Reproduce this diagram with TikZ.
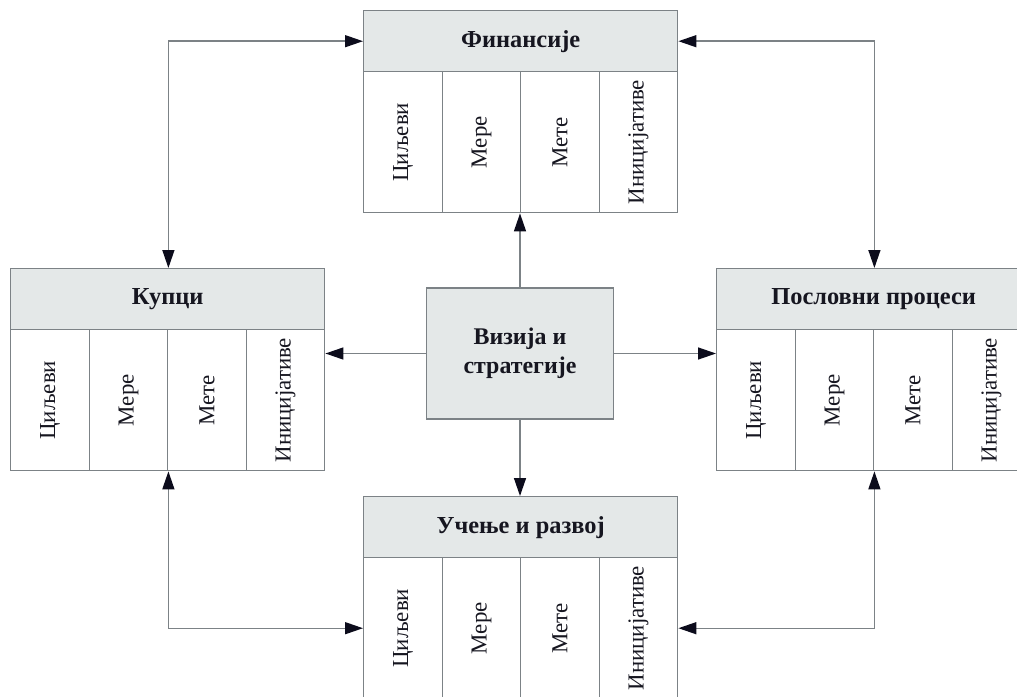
\documentclass[tikz,border=0pt]{standalone}
\usepackage{fontspec}
\setmainfont{Liberation Serif}
\usetikzlibrary{arrows.meta}

\definecolor{linec}{RGB}{124,130,134}
\definecolor{headc}{RGB}{228,232,232}
\definecolor{tipc}{RGB}{12,12,28}
\definecolor{textc}{RGB}{22,22,32}

\tikzset{
  boxline/.style={draw=linec, line width=1.4bp},
  panelhead/.style={boxline, fill=headc, minimum width=314bp, minimum height=61bp,
    inner sep=0pt, anchor=north west, text=textc,
    font=\bfseries\fontsize{24.5}{28}\selectfont},
  panelcell/.style={boxline, fill=white, minimum width=78.5bp, minimum height=141bp,
    inner sep=0pt, anchor=north west, text=textc,
    font=\fontsize{23}{26}\selectfont},
  visionbox/.style={boxline, fill=headc, minimum width=187bp, minimum height=131bp,
    inner sep=0pt, align=center, text=textc,
    font=\bfseries\fontsize{24}{29}\selectfont},
  tiphead/.tip={Triangle[length=18bp,width=12bp,color=tipc]},
  link/.style={draw=linec, line width=1.4bp, -tiphead},
  duplex/.style={draw=linec, line width=1.4bp, tiphead-tiphead},
}

% one perspective: title bar with four rotated columns below it
\newcommand\makepanel[4]{%
  \node[panelhead] (#1-h) at (#2,#3) {#4};
  \node[panelcell] (#1-c1) at (#2,{#3+61}) {\rotatebox{90}{Циљеви}};
  \node[panelcell] (#1-c2) at ({#2+78.5},{#3+61}) {\rotatebox{90}{Мере}};
  \node[panelcell] (#1-c3) at ({#2+157},{#3+61}) {\rotatebox{90}{Мете}};
  \node[panelcell] (#1-c4) at ({#2+235.5},{#3+61}) {\rotatebox{90}{Иницијативе}};
}

\begin{document}
\begin{tikzpicture}[x=1bp, y=-1bp]
  \useasboundingbox (0,0) rectangle (1017,697);
  \fill[white] (0,0) rectangle (1017,697);
  \clip (0,0) rectangle (1017,697);

  \makepanel{fin}{363}{10}{Финансије}
  \makepanel{kup}{10}{268}{Купци}
  \makepanel{pos}{716}{268}{Пословни процеси}
  \makepanel{uc}{363}{496}{Учење и развој}

  \node[visionbox] (viz) at (520,353.5) {Визија и\\стратегије};

  % vision to the four perspectives
  \draw[link] (viz.north) -- (viz.north |- fin-c2.south);
  \draw[link] (viz.south) -- (viz.south |- uc-h.north);
  \draw[link] (viz.west) -- (viz.west -| kup-c4.east);
  \draw[link] (viz.east) -- (viz.east -| pos-c1.west);

  % links between neighbouring perspectives
  \draw[duplex] (fin-h.west) -| (kup-h.north -| kup-c2.east);
  \draw[duplex] (fin-h.east) -| (pos-h.north -| pos-c2.east);
  \draw[duplex] (kup-c2.south east) |- (uc-c1.west);
  \draw[duplex] (pos-c2.south east) |- (uc-c4.east);
\end{tikzpicture}
\end{document}
